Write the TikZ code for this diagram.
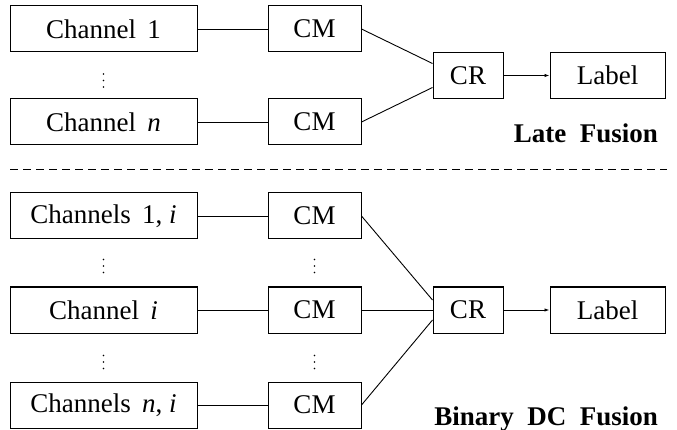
\documentclass[tikz,border=0pt]{standalone}
\usepackage{fontspec}
\setmainfont{Liberation Serif}
\usetikzlibrary{arrows.meta,calc}

\newcommand\diagfont{\fontsize{27}{32}\selectfont}

\tikzset{
  box/.style={draw, line width=1pt, minimum height=46pt, inner sep=0pt, anchor=center},
  chanbox/.style={box, minimum width=187pt},
  cmbox/.style={box, minimum width=93pt},
  crbox/.style={box, minimum width=70pt},
  labbox/.style={box, minimum width=115pt},
  link/.style={line width=0.9pt},
  flow/.style={line width=0.9pt, -{Latex[length=5pt,width=3.5pt]}},
  titletext/.style={font=\diagfont\bfseries, inner sep=0pt},
  vdots/.pic={\fill (0,-6.5) circle (0.9pt) (0,0) circle (0.9pt) (0,6.5) circle (0.9pt);}
}

\begin{document}
\begin{tikzpicture}[x=1pt, y=-1pt, font=\diagfont]
\useasboundingbox (0,0) rectangle (677,430);

% late fusion
\node[chanbox] (c1) at (103.5,29) {Channel\, 1};
\node[chanbox] (cn) at (103.5,122) {Channel\, \textit{n}};
\node[cmbox] (m1) at (314.5,29) {CM};
\node[cmbox] (mn) at (314.5,122) {CM};
\node[crbox] (r1) at (468,75.5) {CR};
\node[labbox] (l1) at (607.5,75.5) {Label};
\pic at (103.5,80.5) {vdots};

\draw[link] (c1) -- (m1);
\draw[link] (cn) -- (mn);
\draw[link] (m1.east) -- ($(r1.west)+(0,-12)$);
\draw[link] (mn.east) -- ($(r1.west)+(0,12)$);
\draw[flow] (r1) -- (l1);
\node[titletext, anchor=base east] (t1) at (658,143) {Late~ Fusion};

% separator
\coordinate (sepL) at (10,169);
\coordinate (sepR) at (667,169);
\draw[line width=0.9pt, dash pattern=on 8pt off 5pt] (sepL) -- (sepR);

% binary DC fusion
\node[chanbox] (b1) at (103.5,216) {Channels\, 1, \textit{i}};
\node[chanbox] (bi) at (103.5,310) {Channel\, \textit{i}};
\node[chanbox] (bn) at (103.5,405) {Channels\, \textit{n}, \textit{i}};
\node[cmbox] (n1) at (314.5,216) {CM};
\node[cmbox] (ni) at (314.5,310) {CM};
\node[cmbox] (nn) at (314.5,405) {CM};
\node[crbox] (r2) at (468,310) {CR};
\node[labbox] (l2) at (607.5,310) {Label};
\pic at (103.5,266) {vdots};
\pic at (103.5,362) {vdots};
\pic at (314.5,266) {vdots};
\pic at (314.5,362) {vdots};

\draw[link] (b1) -- (n1);
\draw[link] (bi) -- (ni);
\draw[link] (bn) -- (nn);
\draw[link] (n1.east) -- ($(r2.west)+(0,-10)$);
\draw[link] (ni.east) -- (r2.west);
\draw[link] (nn.east) -- ($(r2.west)+(0,10)$);
\draw[flow] (r2) -- (l2);
\node[titletext, anchor=base east] (t2) at (658,425) {Binary~ DC~ Fusion};
\end{tikzpicture}
\end{document}
